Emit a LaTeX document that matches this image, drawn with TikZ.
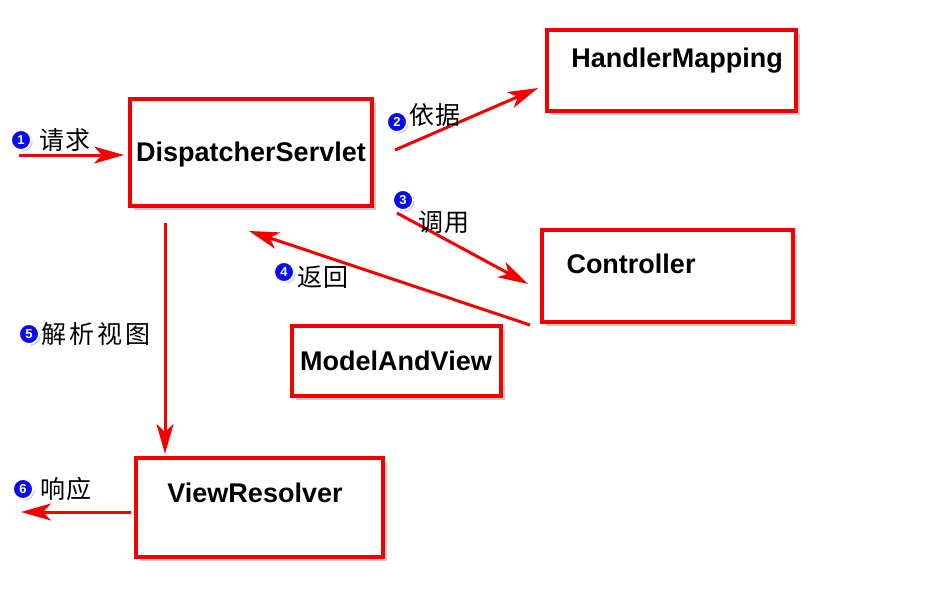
\documentclass[tikz,border=0pt]{standalone}
\usepackage{fontspec}
\setmainfont{Liberation Sans}
\newfontfamily\cjk{Noto Sans CJK SC}[LetterSpace=6]
\newfontfamily\cjkwide{Noto Sans CJK SC}[LetterSpace=12]
\usetikzlibrary{arrows.meta,shadows}
\definecolor{boxred}{RGB}{245,0,0}
\definecolor{numblue}{RGB}{10,10,235}
\tikzset{
  box/.style={draw=boxred, line width=3.6pt, fill=white, rectangle, inner sep=0pt,
    drop shadow={shadow xshift=3.5pt, shadow yshift=-3.5pt, opacity=0.35, fill=black!60}},
  btxt/.style={font=\fontsize{27}{30}\selectfont\bfseries, text=black, inner sep=0pt},
  flow/.style={draw=boxred, line width=3pt, -{Stealth[length=30pt,width=17pt,inset=8pt]}},
  num/.style={circle, fill=numblue, draw=white, line width=1.8pt, inner sep=0pt,
    minimum size=20pt, text=white, font=\fontsize{13}{13}\selectfont\bfseries,
    drop shadow={shadow xshift=1.5pt, shadow yshift=-1.5pt, opacity=0.45}},
  ctxt/.style={font=\cjk\fontsize{25}{27}\selectfont, text=black, inner sep=0pt, anchor=west}
}
\begin{document}
\begin{tikzpicture}[x=1pt,y=-1pt]
\useasboundingbox[fill=white] (0,0) rectangle (928,595);
% boxes
\node[box, minimum width=242pt, minimum height=107pt] (ds) at (251,152.5) {};
\node[btxt] (dsT) at (251,155) {DispatcherServlet};
\node[box, minimum width=249pt, minimum height=81pt] (hm) at (671.5,70.5) {};
\node[btxt] (hmT) at (677,61) {HandlerMapping};
\node[box, minimum width=251pt, minimum height=92pt] (ct) at (667.5,276) {};
\node[btxt] (ctT) at (631,264) {Controller};
\node[box, minimum width=209pt, minimum height=70pt] (mv) at (396.5,361) {};
\node[btxt] (mvT) at (396,361) {ModelAndView};
\node[box, minimum width=247pt, minimum height=99pt] (vr) at (259.5,507.5) {};
\node[btxt] (vrT) at (255,493) {ViewResolver};
% connector endpoints
\coordinate (in) at (19,155);
\coordinate (a1) at (124,155);
\coordinate (a2s) at (395,150);
\coordinate (a2e) at (538,88);
\coordinate (a3s) at (397,213);
\coordinate (a3e) at (528,284);
\coordinate (a4s) at (530,325);
\coordinate (a4e) at (249,231);
\coordinate (a5s) at (165,223);
\coordinate (a5e) at (165,454);
\coordinate (a6s) at (131,512);
\coordinate (out) at (21,512);
\draw[flow] (in) -- (a1);
\draw[flow] (a2s) -- (a2e);
\draw[flow] (a3s) -- (a3e);
\draw[flow] (a4s) -- (a4e);
\draw[flow] (a5s) -- (a5e);
\draw[flow] (a6s) -- (out);
% labels
\node[num] (n1) at (21,140) {1};
\node[ctxt] (l1) at (39,140) {请求};
\node[num] (n2) at (397,122) {2};
\node[ctxt] (l2) at (409,115) {依据};
\node[num] (n3) at (403,200) {3};
\node[ctxt] (l3) at (418,222) {调用};
\node[num] (n4) at (284,272) {4};
\node[ctxt] (l4) at (297,277) {返回};
\node[num] (n5) at (29,334) {5};
\node[ctxt, font=\cjkwide\fontsize{25}{27}\selectfont] (l5) at (41,334) {解析视图};
\node[num] (n6) at (23,489) {6};
\node[ctxt] (l6) at (40,489) {响应};
\end{tikzpicture}
\end{document}
